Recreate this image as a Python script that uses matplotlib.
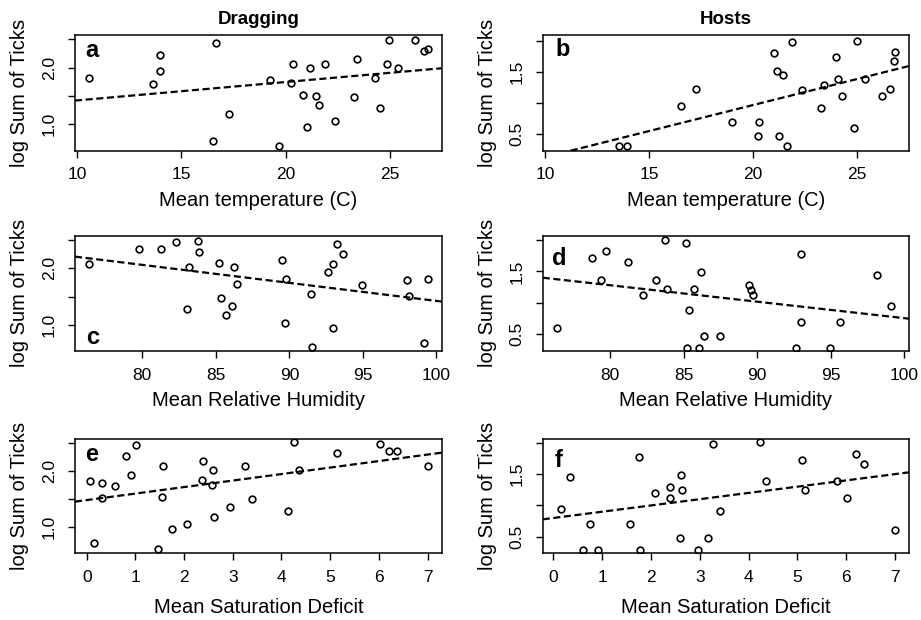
#!/usr/bin/env python3
"""
Tick counts vs. weather variables (dragging / hosts), 3x2 panel figure
"""

import matplotlib
matplotlib.use('Agg')
import matplotlib.pyplot as plt

plt.rcParams['font.family'] = ['Liberation Sans', 'DejaVu Sans']

# --- data ---
temp_drag_x = [10.58, 13.62, 13.99, 13.99, 16.67, 16.54, 17.29, 19.26, 19.70, 20.26,
               20.34, 20.82, 21.01, 21.19, 21.44, 21.63, 21.88, 22.37, 23.30, 23.41,
               24.28, 24.55, 24.86, 24.98, 25.42, 26.22, 26.67, 26.83]
temp_drag_y = [1.82, 1.71, 2.23, 1.94, 2.44, 0.71, 1.18, 1.79, 0.62, 1.73,
               2.07, 1.52, 0.96, 2.00, 1.50, 1.34, 2.07, 1.05, 1.48, 2.16,
               1.82, 1.28, 2.07, 2.48, 2.00, 2.48, 2.29, 2.33]

temp_host_x = [13.57, 13.96, 16.52, 17.28, 19.01, 20.24, 20.30, 21.01, 21.17, 21.44,
               21.23, 21.62, 21.87, 22.37, 23.29, 23.40, 23.97, 24.10, 24.28, 24.84,
               24.98, 25.40, 26.22, 26.59, 26.76, 26.83]
temp_host_y = [0.31, 0.31, 0.95, 1.23, 0.70, 0.47, 0.70, 1.80, 1.51, 1.44,
               0.47, 0.31, 1.98, 1.21, 0.91, 1.28, 1.74, 1.38, 1.11, 0.60,
               2.00, 1.38, 1.11, 1.23, 1.67, 1.82]

rh_drag_x = [76.39, 79.75, 81.25, 82.29, 83.76, 83.88, 83.17, 83.06, 85.19, 85.37,
             85.71, 86.08, 86.24, 86.42, 89.48, 89.68, 89.77, 91.50, 91.52, 92.63,
             92.99, 93.24, 93.63, 92.99, 94.94, 98.03, 98.16, 99.43, 99.16]
rh_drag_y = [2.07, 2.34, 2.34, 2.47, 2.49, 2.29, 2.02, 1.29, 2.09, 1.47,
             1.18, 1.34, 2.02, 1.72, 2.15, 1.04, 1.81, 1.54, 0.61, 1.93,
             2.07, 2.43, 2.25, 0.95, 1.70, 1.79, 1.52, 1.81, 0.69]

rh_host_x = [76.39, 78.75, 79.37, 79.73, 81.20, 82.27, 83.15, 83.76, 83.85, 85.15,
             85.35, 85.26, 85.69, 86.05, 86.21, 86.37, 87.46, 89.46, 89.61, 89.73,
             92.63, 92.99, 92.99, 94.94, 95.62, 98.16, 99.14]
rh_host_y = [0.60, 1.71, 1.36, 1.82, 1.65, 1.12, 1.36, 2.00, 1.22, 1.95,
             0.89, 0.29, 1.22, 0.29, 1.49, 0.47, 0.47, 1.29, 1.20, 1.12,
             0.29, 1.77, 0.69, 0.29, 0.69, 1.44, 0.95]

sd_drag_x = [0.06, 0.14, 0.31, 0.32, 0.59, 0.80, 0.90, 1.01, 1.46, 1.54,
             1.57, 1.76, 2.07, 2.36, 2.39, 2.58, 2.60, 2.62, 2.94, 3.26,
             3.39, 4.14, 4.25, 4.35, 5.14, 6.02, 6.21, 6.37, 7.00]
sd_drag_y = [1.81, 0.71, 1.79, 1.51, 1.72, 2.26, 1.93, 2.46, 0.59, 1.53,
             2.09, 0.96, 1.05, 1.84, 2.18, 1.74, 2.02, 1.17, 1.35, 2.09,
             1.49, 1.28, 2.51, 2.02, 2.32, 2.48, 2.35, 2.35, 2.09]

sd_host_x = [0.15, 0.33, 0.60, 0.74, 0.92, 1.58, 1.76, 1.77, 2.08, 2.38,
             2.40, 2.59, 2.62, 2.64, 2.96, 3.17, 3.27, 3.41, 4.24, 4.36,
             5.10, 5.15, 5.81, 6.02, 6.21, 6.37, 7.01]
sd_host_y = [0.95, 1.45, 0.29, 0.70, 0.29, 0.70, 1.78, 0.29, 1.20, 1.12,
             1.29, 0.48, 1.49, 1.24, 0.29, 0.48, 1.98, 0.91, 2.01, 1.39,
             1.73, 1.24, 1.39, 1.12, 1.82, 1.67, 0.60]

# regression lines (intercept, slope) as drawn in the figure
fit_temp_drag = [1.098, 0.0324]
fit_temp_host = [-0.707, 0.0836]
fit_rh_drag = [4.605, -0.0318]
fit_rh_host = [3.374, -0.02616]
fit_sd_drag = [1.476, 0.1167]
fit_sd_host = [0.799, 0.1003]

temp_ticks = [10, 15, 20, 25]
rh_ticks = [80, 85, 90, 95, 100]
sd_ticks = [0, 1, 2, 3, 4, 5, 6, 7]
drag_yticks = [1.0, 1.5, 2.0, 2.5]
drag_ylabels = ['1.0', '', '2.0', '']
host_yticks = [0.5, 1.0, 1.5, 2.0]
host_ylabels = ['0.5', '', '1.5', '']

panel_letters = ['a', 'b', 'c', 'd', 'e', 'f']
col_titles = ['Dragging', 'Hosts']
x_labels = ['Mean temperature (C)', 'Mean Relative Humidity', 'Mean Saturation Deficit']
y_label = 'log Sum of Ticks'

W, H = 921, 620
fig = plt.figure(figsize=(W / 100, H / 100), dpi=100)

# axes boxes in pixels (left, top, right, bottom)
col_px = [(75, 441.7), (542.7, 909)]
row_px = [(35, 150.7), (235.7, 351), (439, 553.3)]
xlabel_pad = [6, 6, 9.5]


def make_axes(r, c):
    x0, x1 = col_px[c]
    y0, y1 = row_px[r]
    return fig.add_axes([x0 / W, 1 - y1 / H, (x1 - x0) / W, (y1 - y0) / H])


panels = [
    (0, 0, temp_drag_x, temp_drag_y, fit_temp_drag, temp_ticks, (9.89, 27.5), (0.534, 2.576), (10, -21.7)),
    (0, 1, temp_host_x, temp_host_y, fit_temp_host, temp_ticks, (9.89, 27.5), (0.232, 2.09), (13, -21)),
    (1, 0, rh_drag_x, rh_drag_y, fit_rh_drag, rh_ticks, (75.42, 100.36), (0.541, 2.576), None),
    (1, 1, rh_host_x, rh_host_y, fit_rh_host, rh_ticks, (75.42, 100.34), (0.235, 2.069), (9, -29.3)),
    (2, 0, sd_drag_x, sd_drag_y, fit_sd_drag, sd_ticks, (-0.24, 7.29), (0.521, 2.572), (10, -21.7)),
    (2, 1, sd_host_x, sd_host_y, fit_sd_host, sd_ticks, (-0.22, 7.29), (0.233, 2.064), (12, -27.7)),
]

for i, (r, c, xs, ys, fit, xt, xlim, ylim, letter_off) in enumerate(panels):
    ax = make_axes(r, c)
    ax.plot(xs, ys, 'o', mfc='none', mec='black', ms=4.8, mew=1.2, zorder=3)
    ax.axline((0, fit[0]), slope=fit[1], color='black', lw=1.6,
              linestyle=(0, (3.2, 1.6)), zorder=2)
    ax.set_xlim(*xlim)
    ax.set_ylim(*ylim)
    ax.set_xticks(xt)
    if c == 0:
        ax.set_yticks(drag_yticks)
        ax.set_yticklabels(drag_ylabels)
    else:
        ax.set_yticks(host_yticks)
        ax.set_yticklabels(host_ylabels)
    ax.tick_params(axis='both', direction='out', length=5, width=1.0,
                   labelsize=12.5)
    ax.tick_params(axis='x', pad=7)
    ax.tick_params(axis='y', labelrotation=90, pad=8)
    for lbl in ax.get_yticklabels():
        lbl.set_verticalalignment('center')
    for sp in ax.spines.values():
        sp.set_linewidth(1.1)

    ax.set_xlabel(x_labels[r], fontsize=14.5, labelpad=xlabel_pad[r])
    ax.set_ylabel(y_label, fontsize=14.5)
    ax.yaxis.set_label_coords(-0.125, 0.5)

    if r == 0:
        ax.set_title(col_titles[c], fontsize=13.5, fontweight='bold', pad=8)

    # panel letter
    if letter_off is not None:
        ax.annotate(panel_letters[i], xy=(0, 1), xycoords='axes fraction',
                    xytext=letter_off, textcoords='offset pixels',
                    ha='left', va='baseline', fontsize=17, fontweight='bold')
    else:
        ax.annotate(panel_letters[i], xy=(0, 0), xycoords='axes fraction',
                    xytext=(11, 7), textcoords='offset pixels',
                    ha='left', va='baseline', fontsize=17, fontweight='bold')

fig.savefig('out.png', dpi=100)
